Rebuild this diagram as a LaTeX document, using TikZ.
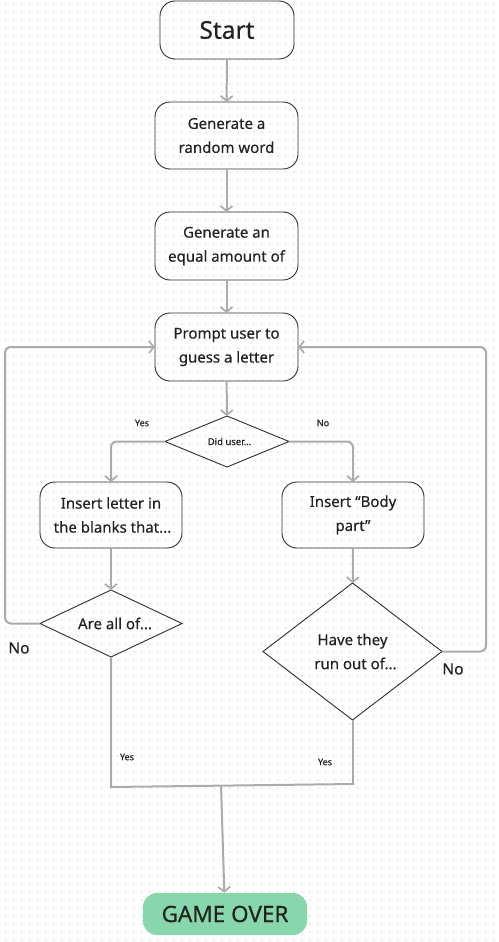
\documentclass[tikz,border=0pt]{standalone}
\usepackage{fontspec}
\setmainfont{Noto Sans}[FakeBold=0.35,AutoFakeBold=0.35]
\usetikzlibrary{arrows.meta,shapes.geometric}
\definecolor{dotc}{HTML}{EBEBEB}
\definecolor{linec}{HTML}{ABABAB}
\definecolor{boxc}{HTML}{2E2E2E}
\definecolor{txtc}{HTML}{222222}
\definecolor{greenc}{HTML}{88D6AB}
\tikzset{
  box/.style={draw=boxc, line width=0.9pt, rounded corners=15pt, align=center,
    text=txtc, font=\fontsize{15}{24}\selectfont\bfseries, inner sep=0pt, outer sep=0pt},
  dec/.style={draw=boxc, line width=0.9pt, diamond, aspect=2, align=center,
    text=txtc, inner sep=0pt, outer sep=0pt},
  conn/.style={draw=linec, line width=2pt, rounded corners=6pt},
  arr/.style={conn, -{Straight Barb[length=5pt,width=12pt,line width=1.7pt]}},
  small/.style={text=txtc, font=\fontsize{9}{11}\selectfont, inner sep=0pt},
  big/.style={text=txtc, font=\fontsize{15.5}{18}\selectfont\bfseries, inner sep=0pt},
}
\begin{document}
\begin{tikzpicture}[x=1pt,y=-1pt]
\useasboundingbox (0,0) rectangle (498,942);
\fill[white] (0,0) rectangle (498,942);
\foreach \yy in {4,12,...,940}
  \draw[dotc, line width=1.3pt, dash pattern=on 1.3pt off 6.7pt] (5.35,\yy) -- (498,\yy);

\node[box, minimum width=134pt, minimum height=58pt, font=\fontsize{24.5}{28}\selectfont\bfseries] (start) at (227,30) {Start};
\node[box, minimum width=143pt, minimum height=67pt] (gen1) at (226.5,135.5) {Generate a\\random word};
\node[box, minimum width=143pt, minimum height=68pt] (gen2) at (226.5,246) {Generate an\\equal amount of};
\node[box, minimum width=143pt, minimum height=68pt] (prompt) at (226.5,347) {Prompt user to\\guess a letter};
\node[dec, minimum width=124pt, minimum height=51pt, font=\fontsize{9.5}{11}\selectfont] (did) at (227,441.5) {\hspace*{5pt}Did user...};
\node[box, minimum width=142pt, minimum height=66pt] (ins1) at (111,515) {Insert letter in\\\hspace*{3pt}the blanks that...};
\node[box, minimum width=142pt, minimum height=66pt] (ins2) at (353,515) {Insert “Body\\part”};
\node[dec, minimum width=142pt, minimum height=67pt, font=\fontsize{15}{24}\selectfont\bfseries] (all) at (111,623.5) {\hspace*{8pt}Are all of...};
\node[dec, minimum width=179pt, minimum height=137pt, font=\fontsize{15}{24}\selectfont\bfseries] (have) at (352.5,651.5) {Have they\\\hspace*{6pt}run out of...};
\node[fill=greenc, rounded corners=14pt, minimum width=164pt, minimum height=42pt, inner sep=0pt,
  text=txtc, font=\fontsize{22.5}{26}\selectfont\bfseries] (over) at (225,914) {GAME OVER};

\node[small] (y1) at (142,423) {Yes};
\node[small] (n1) at (323,423) {No};
\node[big] (n2) at (19,648) {No};
\node[big] (n3) at (453,669) {No};
\node[small] (y2) at (127,757) {Yes};
\node[small] (y3) at (325,762) {Yes};

\coordinate (ll) at (5,623.5);
\coordinate (rr) at (486,651.5);
\coordinate (jl) at (111,787);
\coordinate (jr) at (354,784);
\coordinate (jm) at (221,785.5);

\draw[arr] (start) -- (gen1);
\draw[arr] (gen1) -- (gen2);
\draw[arr] (gen2) -- (prompt);
\draw[arr] (prompt) -- (did);
\draw[arr] (did.west) -| (ins1.north);
\draw[arr] (did.east) -| (ins2.north);
\draw[arr] (ins1) -- (all);
\draw[arr] (ins2) -- (have);
\draw[arr] (all.west) -- (ll) |- (prompt.west);
\draw[arr] (have.east) -- (rr) |- (prompt.east);
\draw[draw=linec, line width=2pt] (all.south) -- (jl) -- (jr);
\draw[draw=linec, line width=2pt] (have.south) -- (have.south |- jr);
\draw[arr] (jm) -- (over);
\end{tikzpicture}
\end{document}
